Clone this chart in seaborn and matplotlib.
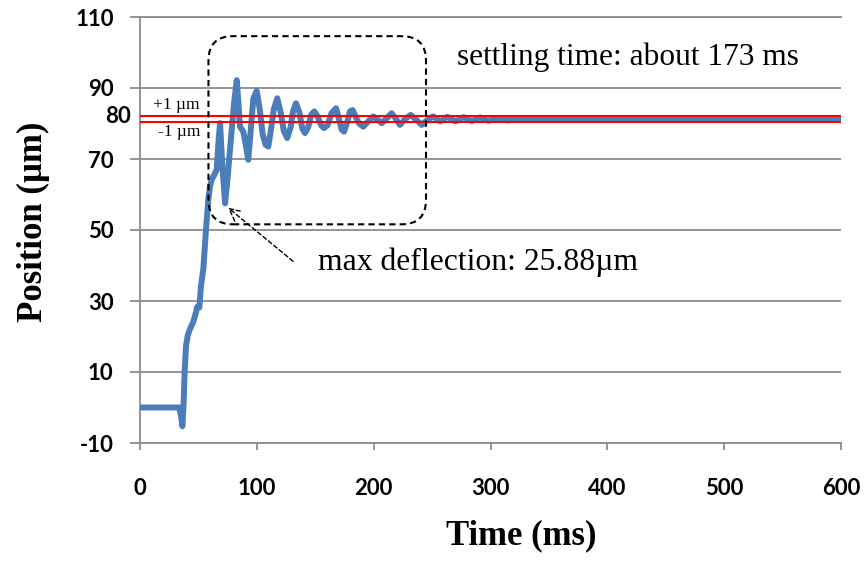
import matplotlib
matplotlib.use("Agg")
import matplotlib.pyplot as plt
from matplotlib.patches import FancyBboxPatch
import seaborn as sns
import pandas as pd

# ---- data ----
time_ms = [0, 33.6, 35.2, 36.3, 37.3, 38.2, 39.4, 41, 42.8, 45.6, 48, 48.8, 50.8, 52.2,
           54.2, 56.5, 58.5, 59.9, 61.4, 63.5, 65.6, 67, 68.5, 70.5, 72.8, 74.8, 77,
           80.5, 82.8, 84.2, 85.6, 88.4, 90.5, 92.7, 95, 97, 99.9, 102.5, 105, 107.5,
           109.8, 112, 114.5, 117.5, 120.5, 123, 126, 129, 131, 133.5, 136.5, 139,
           141.2, 144, 146.5, 149.2, 152, 155, 157.5, 160.5, 164, 167.8, 170.5, 172.6,
           174.6, 177.5, 179.7, 182, 184.5, 187.5, 191.1, 195, 199.7, 203, 206.9, 211,
           215.4, 219, 222.5, 227, 231.7, 236, 241, 246, 251, 257, 263, 270, 277, 284,
           291, 298, 306, 315, 325, 340, 360, 380, 420, 460, 500, 540, 580, 600]
position_um = [0, 0, -2.5, -5.3, 1, 10, 17.4, 20.5, 22.1, 24.1, 26.9, 28.3, 28.2, 34.3,
               39, 50.2, 58.6, 62.3, 64.2, 65.5, 67, 74, 80.1, 68, 57.5, 64, 72.6,
               85.7, 92.2, 86, 79.1, 77.7, 74, 69.8, 79, 87, 89.2, 84, 77, 74,
               73.5, 78, 84, 87.1, 83, 78, 75.9, 79, 83.5, 85.7, 83, 78.5,
               77.3, 79, 82.5, 83.4, 82, 79.5, 78.7, 79.5, 83, 84.3, 81, 78.3,
               77.7, 80.5, 83.4, 83.8, 82, 80, 79.1, 80.5, 82, 81.2, 80.1, 81.4,
               82.9, 81.3, 79.6, 81.3, 82.4, 81.2, 79.6, 81, 82, 80.6, 81.9, 80.6, 81.8, 80.7,
               81.7, 80.8, 81.6, 80.9, 81.5, 81.0, 81.4, 81.1, 81.3, 81.1, 81.3, 81.1, 81.3, 81.2]

y_ticks = [-10, 10, 30, 50, 70, 90, 110]
x_ticks = [0, 100, 200, 300, 400, 500, 600]
band_upper = 82.1
band_lower = 80.3

df = pd.DataFrame({"Time (ms)": time_ms, "Position": position_um})

sns.set_theme(style="white")
plt.rcParams["font.family"] = ["Liberation Serif", "DejaVu Serif"]
for k in ["text.color", "axes.labelcolor", "xtick.labelcolor", "ytick.labelcolor"]:
    plt.rcParams[k] = "black"

fig = plt.figure(figsize=(8.67, 5.62), dpi=100)
ax = fig.add_axes([140 / 867, 1 - 443 / 562, 701 / 867, 426 / 562])

sns.lineplot(data=df, x="Time (ms)", y="Position", ax=ax, sort=False, estimator=None,
             color="#4A7EBB", linewidth=4.3, zorder=3,
             solid_joinstyle="round", solid_capstyle="round")

ax.axhline(band_upper, color="#FF0000", lw=1.5, zorder=4)
ax.axhline(band_lower, color="#FF0000", lw=1.5, zorder=4)

ax.set_xlim(0, 600)
ax.set_ylim(-10, 110)
ax.set_xticks(x_ticks)
ax.set_yticks(y_ticks)
grid_c = "#8C8C8C"
ax.grid(axis="y", color=grid_c, lw=1.3)
ax.grid(axis="x", visible=False)
ax.spines["right"].set_visible(False)
for s in ["left", "bottom", "top"]:
    ax.spines[s].set_color(grid_c)
    ax.spines[s].set_linewidth(1.3)

tick_font = dict(family=["Lato", "DejaVu Sans"], weight="bold", size=16, color="black")
ax.tick_params(axis="y", length=7, width=1.3, color=grid_c, left=True, pad=12)
ax.tick_params(axis="x", length=5, width=1.3, color=grid_c, bottom=True, pad=20)
ax.set_xticklabels([str(v) for v in x_ticks], **tick_font)
ax.set_yticklabels([str(v) for v in y_ticks], **tick_font)

ax.text(-7.7, 81.9, "80", ha="right", va="center", clip_on=False, **tick_font)

ax.set_xlabel("Time (ms)", fontsize=25, weight="bold", color="black")
ax.set_ylabel("Position (µm)", fontsize=25, weight="bold", color="black")
ax.xaxis.set_label_coords(0.5435, -0.178)
ax.yaxis.set_label_coords(-0.128, 0.52)

# dashed rounded box
box = FancyBboxPatch((58.6, 51.6), 186.2, 53.0,
                     boxstyle="round,pad=0,rounding_size=21", mutation_aspect=0.328,
                     fill=False, ec="black", lw=1.5, ls=(0, (3, 2)), zorder=5)
ax.add_patch(box)

ax.annotate("", xy=(75.3, 56.3), xytext=(131, 41.2),
            arrowprops=dict(arrowstyle="->", color="black", lw=1.0, ls=(0, (3, 2)),
                            mutation_scale=22, shrinkA=0, shrinkB=0))

ax.text(271.3, 98.7, "settling time: about 173 ms", fontsize=22.6, ha="left", va="center")
ax.text(152.4, 40.9, "max deflection: 25.88µm", fontsize=22.8, ha="left", va="center")
ax.text(11.1, 85.2, "+1 µm", fontsize=12.5, ha="left", va="center")
ax.text(15.4, 77.7, "-1 µm", fontsize=12.5, ha="left", va="center")

fig.savefig("out.png", dpi=100)
